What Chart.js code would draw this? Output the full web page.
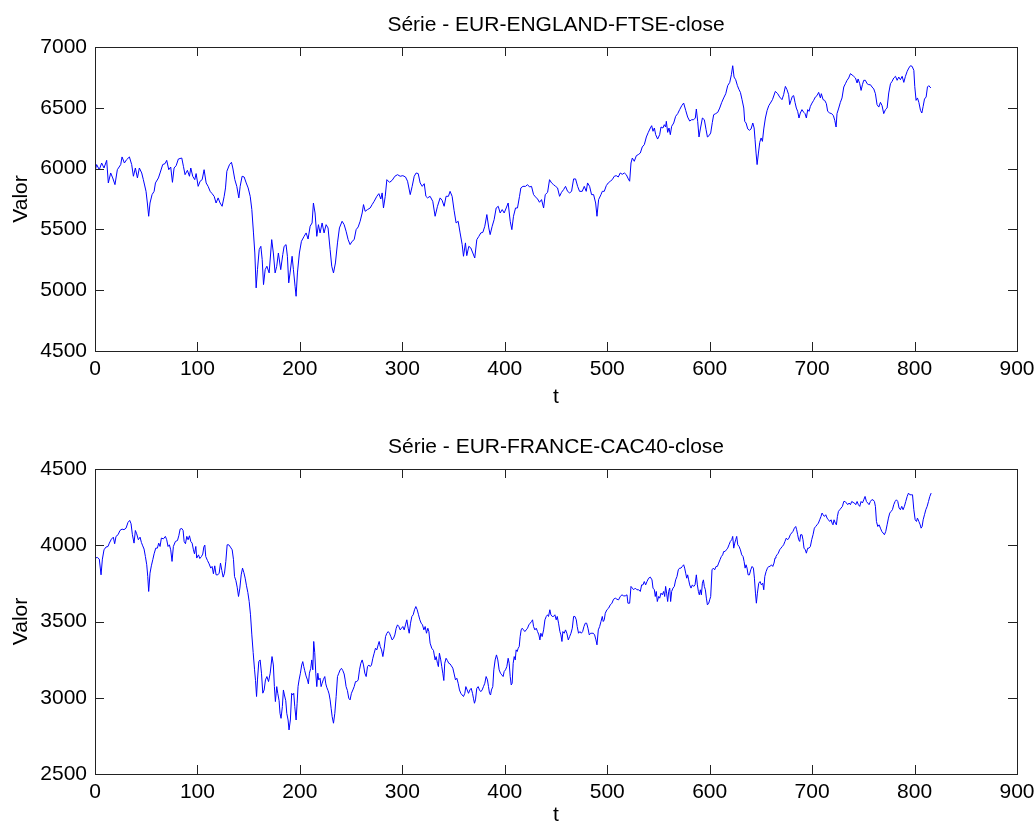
<!DOCTYPE html>
<html>
<head>
<meta charset="utf-8">
<script src="https://cdn.jsdelivr.net/npm/chart.js@4.4.1/dist/chart.umd.min.js"></script>
<style>
  html, body { margin: 0; padding: 0; background: #fff; overflow: hidden; width: 1036px; height: 825px; }
  .plot { position: absolute; left: 0; width: 1036px; }
  #boxTop { top: 0; height: 412px; }
  #boxBot { top: 412px; height: 425px; }
</style>
</head>
<body>
<div class="plot" id="boxTop"><canvas id="chartTop" width="1036" height="412"></canvas></div>
<div class="plot" id="boxBot"><canvas id="chartBot" width="1036" height="425"></canvas></div>
<script>
// series (t = day index)
const tTop = [
  0,1.6,4.2,6.5,8.8,11.4,13.0,15.3,17.3,19.5,
  21.8,25.1,26.4,28.7,30.9,33.6,35.8,37.5,39.4,41.4,
  43.3,45.6,47.2,49.8,51.1,52.4,53.7,55.7,57.7,59.0,
  61.9,63.5,66.1,68.4,70.0,72.0,73.9,75.6,77.2,79.2,
  81.4,84.7,86.3,87.9,90.2,92.2,93.5,95.4,97.4,98.7,
  100.7,102.6,104.6,106.5,108.5,110.4,112.4,114.3,116.3,118.2,
  120.2,122.1,124.1,126.1,127.4,128.7,131.3,133.2,134.5,136.5,
  138.4,140.4,141.7,143.6,145.6,147.6,149.5,151.5,153.1,154.7,
  156.0,157.3,158.6,160.3,161.9,163.2,164.5,166.1,167.8,170.0,
  172.5,174.1,175.8,177.4,179.0,181.3,183.3,184.6,186.5,187.8,
  189.1,190.4,192.4,193.7,195.3,196.3,197.6,199.5,201.5,204.1,
  206.1,208.0,210.0,211.9,213.2,214.8,216.5,218.1,219.7,221.7,
  223.6,225.6,227.5,229.5,231.1,232.8,234.7,236.7,238.6,241.2,
  243.2,245.1,247.1,249.0,251.0,253.0,254.9,256.9,258.8,260.8,
  262.1,263.7,266.0,268.6,270.5,272.5,275.1,277.1,279.0,280.3,
  281.6,283.3,284.9,287.5,290.1,292.7,295.3,297.9,300.5,303.1,
  305.1,307.7,309.6,311.6,313.5,315.5,317.4,319.4,321.4,323.0,
  324.6,327.1,329.7,332.0,334.3,336.9,338.8,340.8,342.7,345.0,
  346.6,348.6,350.5,352.5,354.5,356.4,358.4,359.7,361.6,362.9,
  364.9,366.8,368.8,370.7,372.7,374.7,376.6,378.6,380.5,382.5,
  384.4,385.7,387.7,389.6,391.6,393.6,395.5,397.5,399.4,401.4,
  403.3,405.3,406.9,408.5,410.5,412.4,414.4,415.7,417.7,420.3,
  422.2,424.2,426.1,428.1,430.0,432.0,433.9,435.9,437.9,439.5,
  441.8,443.7,445.7,447.6,449.6,451.5,453.5,455.4,457.4,459.3,
  461.3,463.3,465.2,467.2,469.1,471.1,473.0,475.6,477.6,479.5,
  480.8,482.8,484.7,486.7,488.7,490.0,491.6,493.9,495.2,497.1,
  499.1,501.0,503.0,504.9,506.9,508.8,510.8,512.7,514.7,516.7,
  518.6,520.6,521.9,523.2,524.5,526.4,528.4,530.3,532.3,534.2,
  536.2,538.2,540.1,542.1,543.4,544.7,546.0,547.3,549.2,551.2,
  552.5,554.4,555.7,557.0,557.7,559.0,560.3,561.6,562.9,564.9,
  566.8,568.8,570.7,572.7,574.6,576.6,578.5,580.5,582.4,584.4,
  586.0,587.0,588.3,589.6,590.9,592.9,594.8,596.5,597.8,599.4,
  601.0,602.6,603.9,605.9,607.9,609.8,611.8,613.7,615.7,617.6,
  619.6,621.2,622.5,623.8,625.4,627.1,628.7,630.0,631.6,633.3,
  634.2,635.5,637.2,638.8,640.4,642.1,643.4,644.3,645.3,646.3,
  647.6,648.9,650.2,651.5,652.8,654.4,656.1,657.7,659.3,661.3,
  664.1,666.4,668.3,670.6,672.2,673.9,675.5,677.1,678.1,679.4,
  680.7,682.0,683.3,684.6,685.9,687.2,688.5,690.1,691.8,693.1,
  694.4,695.7,697.0,698.3,699.9,701.5,703.2,704.8,706.4,708.1,
  709.0,710.7,712.3,713.9,715.2,717.2,719.1,720.8,722.1,723.4,
  724.3,726.0,727.6,729.2,730.9,732.5,734.1,735.7,737.4,739.0,
  740.6,742.3,743.9,744.9,746.5,747.8,749.1,750.4,752.0,753.7,
  755.3,756.9,758.5,760.2,761.8,763.4,765.1,766.7,768.3,769.9,
  771.6,773.2,774.8,776.5,778.1,779.7,781.4,783.0,784.6,786.2,
  787.9,789.5,791.1,792.8,794.4,796.0,797.6,799.3,800.2,801.5,
  802.8,804.2,805.8,807.1,808.4,809.7,811.3,812.6,813.9,815.9
];
const ftse = [
  5978,6033,5991,6046,6005,6068,5882,5964,5923,5868,
  5991,6033,6096,6046,6074,6096,6033,5937,6005,5923,
  6005,5964,5909,5813,5717,5608,5717,5786,5813,5882,
  5923,5964,6033,6041,6068,5991,6013,5887,6005,6024,
  6079,6087,6019,5950,5986,5937,6005,5937,5909,5959,
  5854,5896,5909,5991,5882,5854,5813,5794,5772,5717,
  5759,5717,5690,5772,5841,5978,6033,6052,6005,5909,
  5854,5759,5854,5937,5931,5882,5841,5772,5663,5471,
  5306,5019,5169,5334,5361,5252,5046,5169,5197,5142,
  5416,5306,5142,5197,5306,5169,5293,5361,5375,5279,
  5060,5142,5279,5169,5032,4950,5142,5306,5402,5443,
  5471,5421,5526,5553,5717,5635,5443,5539,5471,5553,
  5471,5539,5512,5334,5197,5142,5224,5389,5512,5567,
  5539,5485,5416,5375,5402,5416,5498,5520,5567,5635,
  5704,5649,5663,5676,5704,5731,5772,5794,5750,5800,
  5676,5772,5909,5887,5904,5937,5950,5937,5942,5931,
  5896,5786,5854,5937,5964,5959,5882,5854,5876,5772,
  5759,5772,5731,5608,5690,5759,5739,5690,5772,5772,
  5813,5772,5657,5553,5567,5471,5375,5279,5389,5284,
  5361,5348,5306,5265,5416,5443,5471,5476,5526,5622,
  5512,5457,5526,5580,5676,5690,5635,5663,5635,5676,
  5717,5567,5498,5608,5676,5676,5772,5841,5854,5854,
  5868,5849,5854,5786,5767,5750,5723,5745,5676,5786,
  5805,5909,5882,5868,5854,5841,5772,5805,5827,5854,
  5813,5800,5813,5915,5915,5854,5813,5813,5854,5813,
  5882,5854,5786,5786,5717,5608,5745,5786,5813,5813,
  5860,5882,5896,5909,5937,5942,5931,5964,5953,5964,
  5950,5915,5896,6046,6087,6060,6106,6115,6128,6178,
  6197,6260,6298,6334,6353,6307,6334,6279,6243,6279,
  6342,6334,6361,6342,6389,6298,6334,6279,6348,6375,
  6430,6452,6485,6517,6539,6479,6424,6391,6402,6402,
  6416,6490,6389,6260,6326,6416,6402,6320,6260,6271,
  6293,6380,6443,6452,6463,6498,6545,6581,6616,6682,
  6709,6772,6846,6753,6731,6682,6649,6627,6567,6498,
  6389,6375,6326,6315,6326,6375,6334,6238,6128,6033,
  6128,6216,6252,6224,6326,6416,6479,6517,6539,6567,
  6635,6616,6589,6567,6608,6676,6649,6608,6526,6561,
  6594,6600,6545,6498,6471,6416,6457,6485,6463,6452,
  6416,6485,6471,6512,6539,6561,6589,6600,6627,6581,
  6616,6567,6561,6534,6471,6457,6452,6435,6397,6342,
  6452,6498,6545,6581,6671,6698,6726,6745,6781,6770,
  6759,6745,6704,6737,6698,6643,6690,6726,6726,6698,
  6690,6690,6671,6655,6616,6526,6506,6545,6517,6452,
  6485,6498,6622,6698,6718,6745,6759,6726,6753,6731,
  6759,6709,6759,6800,6827,6846,6841,6808,6676,6561,
  6581,6545,6479,6457,6512,6572,6589,6671,6682,6663
];

const tBot = [
  0,2.3,4.2,5.9,7.2,8.8,10.7,12.7,14.0,16.0,
  17.9,19.2,20.5,22.5,24.4,26.4,28.3,30.3,32.2,33.9,
  35.2,36.5,38.1,39.4,40.7,42.3,44.0,45.3,46.6,47.9,
  49.2,50.5,51.5,52.4,53.7,55.0,56.4,57.7,59.3,60.9,
  62.2,63.5,64.8,66.8,68.7,70.0,71.3,72.6,73.9,75.2,
  76.5,78.5,80.5,81.8,83.1,84.7,86.0,87.0,88.3,89.6,
  90.9,92.2,93.5,94.8,96.1,97.1,98.4,99.3,101.0,102.3,
  103.9,105.2,106.2,107.2,108.1,109.8,111.4,113.0,114.3,115.6,
  116.9,118.2,119.9,121.2,122.5,123.8,125.1,126.4,127.7,129.0,
  130.6,132.2,133.9,135.2,136.2,137.5,138.8,140.1,141.4,142.7,
  144.0,145.3,146.6,147.9,149.2,150.5,151.8,153.1,154.4,155.7,
  156.7,157.7,158.6,159.9,161.2,162.5,163.8,165.1,166.4,167.8,
  169.4,171.0,172.8,174.1,175.1,176.1,177.4,178.4,179.7,180.6,
  181.6,182.9,183.9,184.9,186.2,187.2,188.5,189.4,190.7,192.0,
  193.0,194.0,195.0,196.3,197.3,198.2,199.2,200.5,201.8,202.8,
  203.8,204.7,206.0,207.4,208.3,209.3,210.6,211.6,212.6,213.5,
  214.5,215.5,216.5,217.5,218.4,219.7,220.7,221.7,223.0,224.3,
  225.3,226.2,227.5,228.5,229.5,230.5,231.5,232.8,234.1,235.4,
  236.7,238.0,239.3,240.6,241.9,243.2,244.2,245.1,246.4,247.7,
  249.0,250.3,251.7,253.0,254.3,255.6,256.9,258.2,259.5,260.8,
  262.1,263.4,264.7,266.0,267.3,268.6,269.9,271.2,272.5,273.8,
  275.1,276.4,277.4,278.4,279.7,281.0,282.3,283.6,284.9,286.2,
  287.5,288.8,290.1,291.4,292.7,294.0,295.3,296.6,297.9,299.2,
  300.5,301.8,303.1,304.4,305.7,306.7,308.0,309.3,310.6,311.9,
  313.2,314.5,315.8,317.1,318.4,319.7,321.0,322.3,323.6,324.9,
  325.9,327.1,328.7,330.4,332.0,333.0,334.3,335.2,336.2,337.5,
  338.5,339.5,340.5,341.4,342.7,344.0,345.3,346.6,347.9,349.3,
  350.6,351.9,353.2,354.5,355.8,357.1,358.4,359.7,361.0,362.0,
  363.3,364.6,365.9,367.2,368.5,369.4,370.4,371.4,372.7,374.0,
  375.3,376.6,377.9,379.2,380.5,381.8,383.1,384.1,385.1,386.1,
  387.0,388.3,389.3,390.6,391.9,393.2,394.5,395.8,397.1,398.4,
  399.4,400.7,402.0,403.3,404.3,405.3,406.3,407.2,408.2,409.2,
  410.2,411.1,412.1,413.1,414.1,415.0,416.0,417.0,418.3,419.6,
  420.9,422.2,423.5,424.8,426.1,427.1,428.1,429.4,430.7,432.0,
  433.3,434.3,435.2,436.5,437.9,439.2,440.5,441.8,442.7,444.0,
  445.0,446.3,447.6,448.9,450.2,451.2,452.5,453.8,454.8,455.8,
  456.7,458.0,459.3,460.6,462.0,463.3,464.6,465.9,467.2,468.5,
  469.8,470.7,472.0,473.4,474.7,476.0,477.3,478.6,479.9,481.2,
  482.5,483.8,485.1,486.4,487.7,489.0,490.0,491.3,492.6,493.9,
  495.2,496.1,497.1,498.1,499.7,501.3,503.0,504.6,506.2,507.9,
  509.5,511.1,512.7,514.4,516.0,517.6,519.3,520.2,521.9,523.2,
  524.5,525.8,527.4,529.0,530.7,532.3,533.6,534.9,536.2,537.5,
  538.8,540.4,542.1,543.7,544.7,546.0,546.9,547.9,548.9,550.2,
  551.2,552.5,553.8,555.1,556.1,557.0,558.0,559.0,560.0,561.0,
  561.9,562.9,564.2,565.5,566.8,568.1,569.4,570.7,572.0,573.3,
  574.6,575.6,576.6,577.6,578.5,579.5,580.5,581.8,583.1,584.4,
  585.7,587.0,588.0,589.0,589.9,590.9,591.9,592.9,593.9,594.8,
  595.8,596.8,597.8,599.1,600.0,601.0,602.3,603.6,604.9,606.2,
  607.5,608.8,610.1,611.4,612.7,613.7,615.0,616.3,617.6,618.9,
  620.2,621.5,622.5,623.5,624.5,625.4,626.4,627.4,628.7,630.0,
  631.3,632.6,633.6,634.6,635.5,636.5,637.5,638.8,640.1,641.4,
  642.7,643.7,644.7,645.6,646.6,647.9,649.2,650.5,651.8,652.8,
  653.8,655.1,656.4,657.7,659.0,660.3,661.6,662.8,663.8,664.7,
  665.7,667.0,668.3,669.6,670.9,672.2,673.5,674.8,676.1,677.4,
  678.7,680.0,681.3,682.7,684.0,684.9,685.9,686.9,687.9,688.8,
  690.1,691.1,692.1,693.4,694.4,695.7,697.0,698.3,699.6,700.9,
  702.2,703.5,704.8,706.1,707.4,708.7,709.7,710.7,712.0,713.3,
  714.6,715.9,717.2,718.5,719.5,720.4,721.4,722.7,723.7,724.7,
  725.7,727.0,728.3,729.6,730.9,732.2,733.5,734.8,736.1,737.4,
  738.7,740.0,741.3,742.6,743.9,745.2,746.5,747.8,749.1,750.4,
  751.7,753.0,754.3,755.6,756.9,758.2,759.5,760.8,761.8,762.8,
  764.1,765.4,766.7,768.0,769.3,770.6,771.9,773.2,774.5,775.8,
  777.1,778.4,779.7,781.0,782.3,783.6,784.9,786.2,787.5,788.8,
  790.1,791.4,792.8,794.1,795.4,796.7,798.0,799.3,800.6,801.9,
  802.8,804.2,805.5,806.4,807.4,808.4,809.7,811.0,812.3,813.6,
  814.9,816.2
];
const cac = [
  3916,3920,3909,3806,3909,3970,3988,3992,4014,4040,
  4053,4010,4058,4069,4097,4106,4102,4112,4150,4163,
  4141,4069,4014,4097,4075,4036,4053,4018,3996,3975,
  3926,3872,3795,3697,3817,3865,3905,3944,3981,3981,
  4014,3992,4047,4042,4058,4036,3992,4003,3970,3894,
  3992,4025,4031,4062,4106,4110,4097,4025,4010,4058,
  4036,4062,4025,4014,3970,3944,3992,3916,3937,3913,
  3926,3942,3988,4001,3926,3900,3878,3850,3861,3813,
  3865,3806,3806,3817,3883,3835,3791,3817,3894,4003,
  4003,3988,3970,3905,3795,3769,3725,3664,3719,3806,
  3850,3821,3784,3734,3690,3631,3544,3412,3296,3187,
  3113,3008,3117,3237,3248,3161,3030,3051,3117,3139,
  3106,3161,3270,3215,3073,2975,3073,3029,2981,2898,
  2865,2942,3051,3018,2981,2898,2854,2789,2854,3029,
  3018,3029,2942,2854,2964,3073,3117,3161,3215,3237,
  3204,3178,3143,3117,3091,3161,3193,3248,3183,3369,
  3296,3161,3073,3161,3117,3128,3073,3095,3121,3139,
  3091,3069,3047,3025,2986,2931,2876,2833,2898,3008,
  3139,3161,3183,3193,3178,3156,3117,3073,3047,2997,
  2986,3029,3051,3073,3106,3106,3117,3183,3226,3248,
  3215,3161,3139,3204,3215,3204,3215,3259,3292,3325,
  3314,3347,3369,3336,3314,3270,3325,3401,3423,3434,
  3423,3401,3379,3390,3412,3456,3478,3467,3445,3456,
  3467,3445,3478,3511,3456,3423,3489,3533,3544,3577,
  3598,3577,3544,3511,3489,3478,3445,3467,3423,3456,
  3434,3358,3325,3310,3248,3270,3226,3204,3292,3248,
  3204,3161,3113,3226,3259,3244,3226,3222,3209,3194,
  3156,3117,3128,3095,3051,3029,3018,3008,3029,3073,
  3051,3029,3051,3062,3029,2997,2964,2986,3062,3073,
  3051,3040,3051,3073,3095,3139,3117,3073,3029,3018,
  3051,3073,3183,3248,3281,3248,3183,3161,3150,3139,
  3172,3183,3204,3259,3226,3139,3084,3095,3226,3270,
  3248,3314,3303,3325,3336,3401,3445,3456,3445,3434,
  3445,3456,3478,3489,3500,3511,3467,3445,3456,3434,
  3412,3379,3423,3401,3445,3511,3533,3544,3533,3577,
  3544,3533,3533,3544,3511,3533,3489,3434,3412,3369,
  3434,3423,3445,3423,3379,3401,3423,3456,3533,3533,
  3511,3467,3423,3434,3423,3434,3467,3489,3489,3456,
  3412,3423,3423,3423,3412,3379,3347,3445,3467,3500,
  3533,3500,3511,3554,3577,3587,3609,3620,3646,3653,
  3646,3642,3664,3675,3668,3668,3675,3620,3620,3730,
  3719,3708,3719,3708,3708,3697,3740,3740,3762,3740,
  3762,3784,3791,3773,3719,3708,3664,3697,3631,3664,
  3653,3686,3675,3697,3664,3730,3686,3631,3697,3719,
  3631,3697,3719,3730,3773,3795,3839,3850,3850,3861,
  3872,3850,3817,3784,3806,3773,3740,3719,3740,3730,
  3740,3806,3740,3697,3675,3708,3675,3751,3773,3730,
  3708,3653,3609,3620,3642,3664,3839,3850,3839,3861,
  3861,3883,3905,3926,3937,3959,3959,3970,3981,4003,
  4025,4036,4058,3981,4014,4036,4058,4003,3992,3970,
  3937,3926,3894,3850,3872,3850,3806,3806,3839,3861,
  3850,3784,3686,3620,3686,3751,3762,3740,3751,3708,
  3795,3828,3850,3861,3861,3872,3861,3883,3916,3926,
  3937,3948,3970,3981,3992,4003,4025,4047,4036,4047,
  4069,4080,4091,4112,4123,4102,4069,4036,4025,4069,
  4069,4036,3981,3970,3948,3981,3981,3992,4036,4069,
  4112,4123,4134,4145,4167,4189,4211,4200,4189,4200,
  4178,4167,4156,4167,4145,4134,4167,4145,4134,4189,
  4222,4233,4244,4255,4287,4287,4277,4266,4277,4266,
  4287,4281,4277,4266,4287,4266,4255,4287,4277,4298,
  4320,4287,4277,4266,4287,4298,4298,4287,4255,4156,
  4123,4134,4112,4091,4080,4069,4091,4134,4178,4211,
  4222,4233,4266,4287,4298,4287,4244,4233,4255,4233,
  4255,4287,4320,4342,4331,4331,4331,4233,4167,4156,
  4178,4156,4134,4112,4123,4167,4200,4233,4255,4287,
  4320,4342
];

const xTicks = [0, 100, 200, 300, 400, 500, 600, 700, 800, 900];
const yTicksTop = [4500, 5000, 5500, 6000, 6500, 7000];
const yTicksBot = [2500, 3000, 3500, 4000, 4500];

const FONT = "'Liberation Sans', Arial, Helvetica, sans-serif";
const TICK_LEN = 9;

// matlab style box with ticks pointing inward, title centred on the axes
const matlabBox = {
  id: 'matlabBox',
  afterDraw(chart, args, opts) {
    const { ctx, chartArea: a, scales } = chart;
    ctx.save();
    ctx.strokeStyle = '#222';
    ctx.lineWidth = 1;
    ctx.beginPath();
    scales.x.ticks.forEach(tk => {
      const px = Math.round(scales.x.getPixelForValue(tk.value)) + 0.5;
      ctx.moveTo(px, a.bottom); ctx.lineTo(px, a.bottom - TICK_LEN);
      ctx.moveTo(px, a.top); ctx.lineTo(px, a.top + TICK_LEN);
    });
    scales.y.ticks.forEach(tk => {
      const py = Math.round(scales.y.getPixelForValue(tk.value)) + 0.5;
      ctx.moveTo(a.left, py); ctx.lineTo(a.left + TICK_LEN, py);
      ctx.moveTo(a.right, py); ctx.lineTo(a.right - TICK_LEN, py);
    });
    ctx.stroke();
    ctx.strokeRect(Math.round(a.left) + 0.5, Math.round(a.top) + 0.5,
      Math.round(a.right - a.left), Math.round(a.bottom - a.top));

    ctx.fillStyle = '#000';
    ctx.font = '21px ' + FONT;
    ctx.textAlign = 'center';
    ctx.textBaseline = 'middle';
    ctx.fillText(opts.text, (a.left + a.right) / 2, opts.y);
    ctx.restore();
  }
};

function makeChart(id, title, ts, vals, yTicks, g) {
  const points = ts.map((t, i) => ({ x: t, y: vals[i] }));
  return new Chart(document.getElementById(id), {
    type: 'line',
    data: {
      datasets: [{
        data: points,
        borderColor: '#0000ff',
        borderWidth: 1,
        pointRadius: 0,
        tension: 0,
        fill: false
      }]
    },
    options: {
      responsive: false,
      animation: false,
      devicePixelRatio: 1,
      layout: { padding: { left: 0, right: 19, top: g.top, bottom: 0 } },
      plugins: {
        legend: { display: false },
        tooltip: { enabled: false },
        title: { display: false },
        matlabBox: { text: title, y: g.titleY }
      },
      scales: {
        x: {
          type: 'linear',
          min: 0, max: 900,
          afterBuildTicks: s => { s.ticks = xTicks.map(v => ({ value: v })); },
          afterFit: s => { s.height = g.xHeight; s.paddingLeft = 0; s.paddingRight = 0; },
          grid: { display: false, drawTicks: false },
          border: { display: false },
          ticks: { color: '#000', padding: 6, maxRotation: 0, font: { family: FONT, size: 21 },
                   callback: v => String(v) },
          title: { display: true, text: 't', color: '#000', font: { family: FONT, size: 21 }, padding: { top: 0, bottom: g.tPad } }
        },
        y: {
          type: 'linear',
          min: yTicks[0], max: yTicks[yTicks.length - 1],
          afterBuildTicks: s => { s.ticks = yTicks.map(v => ({ value: v })); },
          afterFit: s => { s.width = 95; },
          grid: { display: false, drawTicks: false },
          border: { display: false },
          ticks: { color: '#000', padding: 8, font: { family: FONT, size: 21 },
                   callback: v => String(v) },
          title: { display: true, text: 'Valor', color: '#000', font: { family: FONT, size: 21 }, padding: { top: 9, bottom: 0 } }
        }
      }
    },
    plugins: [matlabBox]
  });
}

makeChart('chartTop', 'Série - EUR-ENGLAND-FTSE-close', tTop, ftse, yTicksTop,
  { top: 47, titleY: 25, xHeight: 61, tPad: 2 });
makeChart('chartBot', 'Série - EUR-FRANCE-CAC40-close', tBot, cac, yTicksBot,
  { top: 57, titleY: 35, xHeight: 63, tPad: 9 });
</script>
</body>
</html>
